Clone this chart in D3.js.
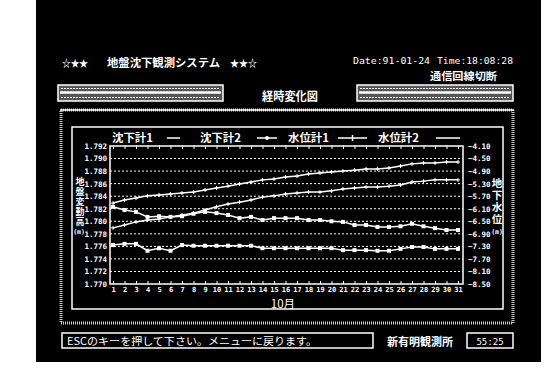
<!DOCTYPE html>
<html><head><meta charset="utf-8">
<script src="https://cdn.jsdelivr.net/npm/d3@7"></script>
<style>body{margin:0;background:#fff}svg{display:block}</style>
</head><body><svg id="c" width="557" height="385"></svg>
<script>
// ---- data ----
const days = ["1","2","3","4","5","6","7","8","9","10","11","12","13","14","15","16","17","18","19","20","21","22","23","24","25","26","27","28","29","30","31"];
const leftTicks = [1.770,1.772,1.774,1.776,1.778,1.780,1.782,1.784,1.786,1.788,1.790,1.792];
const rightTicks = [-8.50,-8.10,-7.70,-7.30,-6.90,-6.50,-6.10,-5.70,-5.30,-4.90,-4.50,-4.10];
const settle1 = [1.7762,1.7764,1.7764,1.7753,1.7757,1.7753,1.7762,1.7761,1.7761,1.7761,1.7761,1.7761,1.7761,1.7757,1.7757,1.7757,1.7757,1.7757,1.7757,1.7757,1.7754,1.7754,1.7754,1.7753,1.7753,1.7756,1.7759,1.7759,1.7756,1.7756,1.7756];
const settle2 = [1.7823,1.7818,1.7815,1.7807,1.7808,1.7807,1.7808,1.7812,1.7815,1.7813,1.7810,1.7805,1.7807,1.7802,1.7805,1.7805,1.7805,1.7802,1.7802,1.7800,1.7799,1.7794,1.7794,1.7791,1.7791,1.7792,1.7796,1.7792,1.7789,1.7786,1.7786];
const water1 = [-5.92,-5.82,-5.76,-5.69,-5.66,-5.63,-5.60,-5.57,-5.50,-5.44,-5.38,-5.31,-5.25,-5.18,-5.15,-5.09,-5.06,-4.99,-4.96,-4.93,-4.90,-4.87,-4.83,-4.83,-4.80,-4.74,-4.67,-4.64,-4.64,-4.61,-4.61];
const water2 = [-6.71,-6.62,-6.52,-6.46,-6.43,-6.36,-6.30,-6.24,-6.14,-6.04,-5.95,-5.89,-5.82,-5.73,-5.69,-5.63,-5.60,-5.57,-5.57,-5.53,-5.47,-5.44,-5.41,-5.41,-5.38,-5.34,-5.25,-5.22,-5.18,-5.18,-5.18];
const seriesNames = ["沈下計1","沈下計2","水位計1","水位計2"];
const monthLabel = "10月";
const leftTitle = "地盤変動高";
const rightTitle = "地下水位";

// ---- drawing ----
const svg = d3.select("#c");
const W = "#fff";
const JP = "'Noto Sans CJK JP', sans-serif";
const MONO = "'DejaVu Sans Mono', monospace";

svg.append("rect").attr("x",36).attr("y",0).attr("width",505).attr("height",362).attr("fill","#000");

function txt(x,y,s,size,opts={}){
  const t = svg.append("text").attr("x",x).attr("y",y).text(s)
    .attr("fill",W).attr("font-size",size)
    .attr("font-family",opts.family||JP).attr("font-weight",opts.weight||"bold");
  if(opts.len) t.attr("textLength",opts.len).attr("lengthAdjust","spacingAndGlyphs");
  if(opts.anchor) t.attr("text-anchor",opts.anchor);
  return t;
}

// header
txt(62,67,"☆★★",10,{len:26});
txt(107,67,"地盤沈下観測システム",11,{len:113});
txt(230,67,"★★☆",10,{len:27});
txt(353,64,"Date:91-01-24",9,{family:MONO,len:77,weight:"normal"});
txt(437,64,"Time:18:08:28",9,{family:MONO,len:76,weight:"normal"});
txt(430,80,"通信回線切断",10.5,{len:67});

// gauge boxes
[[58,165],[357,156]].forEach(([bx,bw])=>{
  svg.append("rect").attr("x",bx).attr("y",85).attr("width",bw).attr("height",16)
    .attr("fill","#555").attr("stroke",W).attr("stroke-width",1.5);
  svg.append("line").attr("x1",bx+2).attr("x2",bx+bw-2).attr("y1",92.5).attr("y2",92.5)
    .attr("stroke",W).attr("stroke-width",2.5);
  [88.5,97.5].forEach(yy=>svg.append("line").attr("x1",bx+3).attr("x2",bx+bw-3).attr("y1",yy).attr("y2",yy)
    .attr("stroke",W).attr("stroke-width",1.2).attr("stroke-dasharray","2,1"));
});
txt(262,101,"経時変化図",12,{len:56});

// frames
svg.append("rect").attr("x",61).attr("y",110).attr("width",452).attr("height",213)
  .attr("fill","none").attr("stroke","#ccc").attr("stroke-width",3).attr("stroke-dasharray","1,1");
svg.append("line").attr("x1",60).attr("x2",514).attr("y1",110).attr("y2",110).attr("stroke",W).attr("stroke-width",1.5);
svg.append("rect").attr("x",72).attr("y",127).attr("width",431).attr("height",182)
  .attr("fill","#000").attr("stroke",W).attr("stroke-width",1.5);

// scales
const x = d3.scalePoint().domain(days).range([113,458]);
const yL = d3.scaleLinear().domain([1.770,1.792]).range([284,146]);
const yR = d3.scaleLinear().domain([-8.50,-4.10]).range([284,146]);
const X0 = 110, X1 = 463;

// grid
svg.append("g").selectAll("line").data(leftTicks.slice(1,-1)).join("line")
  .attr("x1",X0).attr("x2",X1).attr("y1",d=>yL(d)).attr("y2",d=>yL(d))
  .attr("stroke",W).attr("stroke-width",1).attr("stroke-dasharray","2,2");

// plot border
svg.append("rect").attr("x",X0).attr("y",yL(1.792)).attr("width",X1-X0).attr("height",yL(1.770)-yL(1.792))
  .attr("fill","none").attr("stroke",W).attr("stroke-width",1.5);

function styleAxis(g,size,family){
  g.select(".domain").remove();
  g.selectAll("line").attr("stroke",W).attr("stroke-width",1);
  g.selectAll("text").attr("fill",W).attr("font-size",size).attr("font-family",family).attr("font-weight","bold");
}
const gl = svg.append("g").attr("transform",`translate(${X0},0)`)
  .call(d3.axisLeft(yL).tickValues(leftTicks).tickFormat(d3.format(".3f")).tickSize(0).tickPadding(3));
styleAxis(gl,7.5,MONO);
const gr = svg.append("g").attr("transform",`translate(${X1},0)`)
  .call(d3.axisRight(yR).tickValues(rightTicks).tickFormat(d3.format(".2f")).tickSize(0).tickPadding(5));
styleAxis(gr,7.5,MONO);
const gb = svg.append("g").attr("transform",`translate(0,${yL(1.770)})`)
  .call(d3.axisBottom(x).tickSizeInner(-3).tickSizeOuter(0).tickPadding(3));
styleAxis(gb,7,MONO);
const gt = svg.append("g").attr("transform",`translate(0,${yL(1.792)})`)
  .call(d3.axisTop(x).tickSizeInner(-3).tickSizeOuter(0).tickFormat(""));
styleAxis(gt,7,MONO);

// axis titles (vertical)
txt(80,177,leftTitle,9,{}).style("writing-mode","vertical-rl").attr("letter-spacing",1);
txt(79,234,"(m)",6.5,{anchor:"middle",family:MONO});
txt(497,178,rightTitle,10.5,{}).style("writing-mode","vertical-rl").attr("letter-spacing",1.5);
txt(497,234,"(m)",6.5,{anchor:"middle",family:MONO});
txt(283,308,monthLabel,11.5,{anchor:"middle",weight:"normal"});

// series
const series = [
  {name:seriesNames[0], vals:settle1, y:yL, mark:"sq"},
  {name:seriesNames[1], vals:settle2, y:yL, mark:"sq"},
  {name:seriesNames[2], vals:water1, y:yR, mark:"plus"},
  {name:seriesNames[3], vals:water2, y:yR, mark:"plus"}
];
series.forEach(s=>{
  const line = d3.line().x((d,i)=>x(days[i])).y(d=>s.y(d));
  svg.append("path").attr("d",line(s.vals)).attr("fill","none").attr("stroke",W).attr("stroke-width",1.5);
  const g = svg.append("g");
  if(s.mark==="sq"){
    g.selectAll("rect").data(s.vals).join("rect")
      .attr("x",(d,i)=>x(days[i])-2).attr("y",d=>s.y(d)-2).attr("width",4).attr("height",4).attr("fill",W);
  } else {
    g.selectAll("path").data(s.vals).join("path")
      .attr("d",(d,i)=>{const cx=x(days[i]),cy=s.y(d);return `M${cx-2},${cy}H${cx+2}M${cx},${cy-2}V${cy+2}`;})
      .attr("stroke",W).attr("stroke-width",1);
  }
});

// legend
const legX = [112,200,288,378];
const legLine = [[167,180],[257,277],[338,367],[436,460]];
series.forEach((s,i)=>{
  const lx = legX[i];
  txt(lx,142,s.name,11,{len:41});
  const [l0,l1] = legLine[i];
  svg.append("line").attr("x1",l0).attr("x2",l1).attr("y1",138).attr("y2",138).attr("stroke",W).attr("stroke-width",1.5);
  const cx=(l0+l1)/2;
  if(i===1) svg.append("circle").attr("cx",cx).attr("cy",138).attr("r",2).attr("fill",W);
  if(i===2) svg.append("path").attr("d",`M${cx},135V141`).attr("stroke",W).attr("stroke-width",1.5);
});

// status bar
svg.append("rect").attr("x",62).attr("y",333).attr("width",311).attr("height",15)
  .attr("fill","none").attr("stroke",W).attr("stroke-width",1.5);
txt(67,345,"ESCのキーを押して下さい。メニューに戻ります。",10,{len:250,weight:"normal"});
txt(387,346,"新有明観測所",11,{len:66});
svg.append("rect").attr("x",467).attr("y",333).attr("width",46).attr("height",15)
  .attr("fill","none").attr("stroke",W).attr("stroke-width",1.5);
txt(490,345,"55:25",9,{anchor:"middle",family:MONO,weight:"normal"});
</script></body></html>
